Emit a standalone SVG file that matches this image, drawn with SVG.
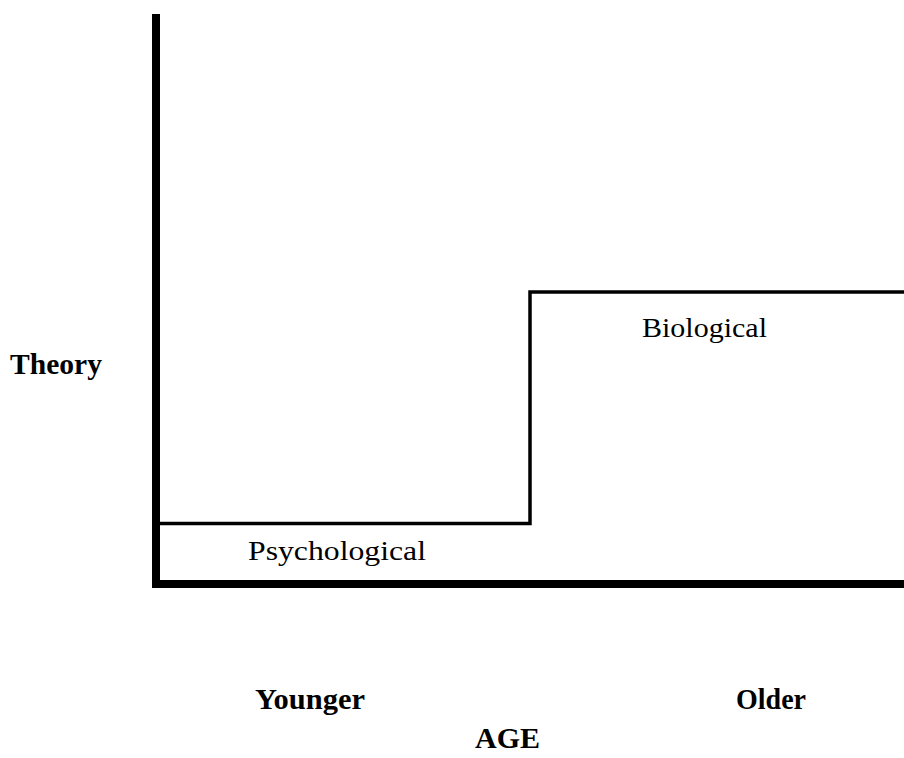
<svg xmlns="http://www.w3.org/2000/svg" width="904" height="758" viewBox="0 0 904 758">
<style>
.axis{fill:none;stroke:#000;stroke-width:8;stroke-linecap:square}
.step{fill:none;stroke:#000;stroke-width:3.5}
.lbl{font-family:"Liberation Serif","Times New Roman",serif;font-size:28px;fill:#000}
.b{font-weight:bold;font-size:29.5px}
</style>
<rect width="904" height="758" fill="#fff"/>
<g id="axes">
<path class="axis" d="M156,18 V584 H904"/>
</g>
<g id="connectors">
<path class="step" d="M158,523.5 H530 V292 H904"/>
</g>
<g id="psychological"><text class="lbl" x="248" y="560" textLength="178" lengthAdjust="spacingAndGlyphs">Psychological</text></g>
<g id="biological"><text class="lbl" x="642" y="337" textLength="125" lengthAdjust="spacingAndGlyphs">Biological</text></g>
<g id="theory"><text class="lbl b" x="10" y="374" textLength="92" lengthAdjust="spacingAndGlyphs">Theory</text></g>
<g id="younger"><text class="lbl b" x="255" y="709" textLength="110" lengthAdjust="spacingAndGlyphs">Younger</text></g>
<g id="older"><text class="lbl b" x="736" y="709" textLength="70" lengthAdjust="spacingAndGlyphs">Older</text></g>
<g id="age"><text class="lbl b" x="475" y="748" textLength="65" lengthAdjust="spacingAndGlyphs">AGE</text></g>
</svg>
